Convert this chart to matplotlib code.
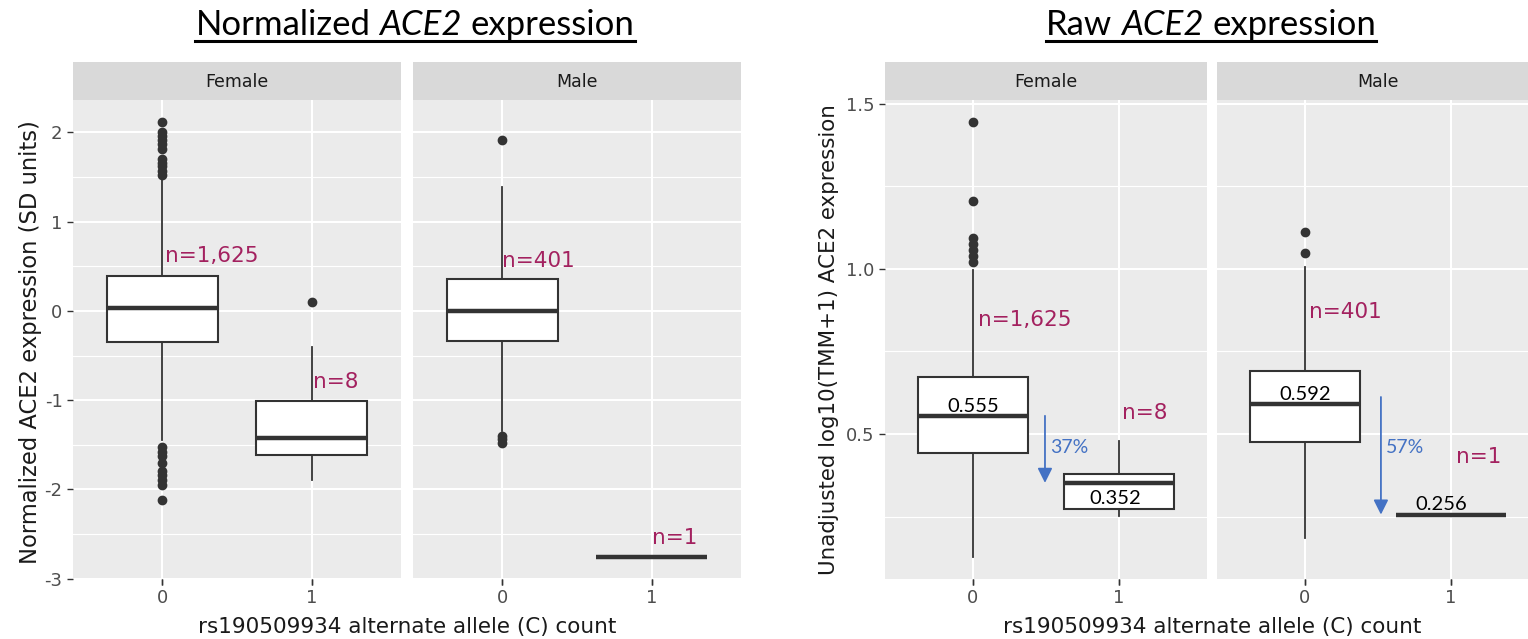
import matplotlib
matplotlib.use("Agg")
import matplotlib.pyplot as plt
from matplotlib.transforms import IdentityTransform
from matplotlib.lines import Line2D
from matplotlib.ticker import FormatStrFormatter

# ---------------- data ----------------
facets = ["Female", "Male"]
allele_counts = ["0", "1"]

# Normalized ACE2 expression (SD units)
norm_female_median = [0.03, -1.42]
norm_female_q1 = [-0.35, -1.61]
norm_female_q3 = [0.39, -1.01]
norm_female_whisker_low = [-1.45, -1.90]
norm_female_whisker_high = [1.49, -0.40]
norm_female_outliers = [[2.12, 2.00, 1.96, 1.92, 1.87, 1.82, 1.70, 1.66, 1.62, 1.57, 1.52,
                         -1.53, -1.58, -1.63, -1.70, -1.79, -1.84, -1.90, -1.95, -2.12],
                        [0.10]]
norm_male_median = [0.00, -2.76]
norm_male_q1 = [-0.34, -2.76]
norm_male_q3 = [0.36, -2.76]
norm_male_whisker_low = [-1.35, -2.76]
norm_male_whisker_high = [1.39, -2.76]
norm_male_outliers = [[1.92, -1.40, -1.44, -1.48], []]

# Raw (unadjusted log10(TMM+1)) ACE2 expression
raw_female_median = [0.555, 0.352]
raw_female_q1 = [0.442, 0.273]
raw_female_q3 = [0.672, 0.380]
raw_female_whisker_low = [0.127, 0.252]
raw_female_whisker_high = [0.997, 0.479]
raw_female_outliers = [[1.445, 1.205, 1.094, 1.076, 1.058, 1.040, 1.022], []]
raw_male_median = [0.592, 0.256]
raw_male_q1 = [0.477, 0.256]
raw_male_q3 = [0.690, 0.256]
raw_male_whisker_low = [0.185, 0.256]
raw_male_whisker_high = [1.006, 0.256]
raw_male_outliers = [[1.112, 1.048], []]

female_n_labels = ["n=1,625", "n=8"]
male_n_labels = ["n=401", "n=1"]

norm_yticks = [-3, -2, -1, 0, 1, 2]
raw_yticks = [0.5, 1.0, 1.5]

# ---------------- style / layout ----------------
W, H = 1528, 639
plt.rcParams['axes.unicode_minus'] = False
plt.rcParams['font.family'] = ['DejaVu Sans']

N_COLOR = '#A3215F'
BLUE = '#4472C4'
DARK = '#333333'
CAL = ['Lato', 'Open Sans', 'DejaVu Sans']

fig = plt.figure(figsize=(W / 100, H / 100), dpi=100)
fig.patch.set_facecolor('white')
renderer = fig.canvas.get_renderer()
IDT = IdentityTransform()

PANEL_TOP, PANEL_BOTTOM, STRIP_TOP = 100, 579, 62


def px_rect(x0, y0, x1, y1):
    return [x0 / W, 1 - y1 / H, (x1 - x0) / W, (y1 - y0) / H]


def expanded(groups):
    vals = []
    for g in groups:
        for v in g:
            if isinstance(v, list):
                vals.extend(v)
            else:
                vals.append(v)
    lo, hi = min(vals), max(vals)
    r = hi - lo
    return lo - 0.05 * r, hi + 0.05 * r


def make_panel(x0, x1, label, ylim, major, minor, show_y, fmt=None):
    ax = fig.add_axes(px_rect(x0, PANEL_TOP, x1, PANEL_BOTTOM))
    ax.set_facecolor('#EBEBEB')
    for s in ax.spines.values():
        s.set_visible(False)
    ax.set_xlim(-0.6, 1.6)
    ax.set_ylim(*ylim)
    ax.set_xticks([0, 1])
    ax.set_xticklabels(allele_counts)
    ax.set_yticks(major)
    ax.set_yticks(minor, minor=True)
    if fmt:
        ax.yaxis.set_major_formatter(FormatStrFormatter(fmt))
    ax.grid(True, which='major', color='white', lw=1.5)
    ax.grid(True, which='minor', axis='y', color='white', lw=0.8)
    ax.set_axisbelow(True)
    ax.tick_params(which='major', length=4.5, width=1.0, color=DARK,
                   labelcolor='#4D4D4D', labelsize=13, pad=3)
    ax.tick_params(which='minor', length=0)
    if not show_y:
        ax.tick_params(axis='y', which='major', length=0, labelleft=False)
    strip = fig.add_axes(px_rect(x0, STRIP_TOP, x1, PANEL_TOP))
    strip.set_facecolor('#D9D9D9')
    strip.set_xticks([])
    strip.set_yticks([])
    for s in strip.spines.values():
        s.set_visible(False)
    strip.text(0.5, 0.48, label, ha='center', va='center', fontsize=12.5, color='#1A1A1A',
               transform=strip.transAxes)
    return ax


def draw_boxes(ax, med, q1, q3, lo, hi, outl):
    stats = [dict(med=m, q1=a, q3=b, whislo=l, whishi=h, fliers=f)
             for m, a, b, l, h, f in zip(med, q1, q3, lo, hi, outl)]
    ax.bxp(stats, positions=[0, 1], widths=0.75, patch_artist=True, showcaps=False,
           boxprops=dict(facecolor='white', edgecolor=DARK, linewidth=1.5),
           medianprops=dict(color=DARK, linewidth=3.2, solid_capstyle='butt'),
           whiskerprops=dict(color=DARK, linewidth=1.3),
           flierprops=dict(marker='o', markerfacecolor=DARK, markeredgecolor=DARK,
                           markersize=6, linestyle='none'))


def title(cx, baseline, parts, size):
    texts = []
    for s, st in parts:
        texts.append(fig.text(0, 0, s, fontsize=size, family=CAL, style=st,
                              transform=IDT, ha='left', va='baseline', color='black'))
    t1 = fig.text(0, 0, "a a", fontsize=size, family=CAL, transform=IDT)
    t2 = fig.text(0, 0, "aa", fontsize=size, family=CAL, transform=IDT)
    space = t1.get_window_extent(renderer).width - t2.get_window_extent(renderer).width
    t1.remove()
    t2.remove()
    widths = [t.get_window_extent(renderer).width for t in texts]
    total = sum(widths) + space * (len(texts) - 1)
    x = cx - total / 2
    for t, w in zip(texts, widths):
        t.set_position((x, H - baseline))
        x += w + space
    fig.add_artist(Line2D([cx - total / 2, cx + total / 2], [H - baseline - 6] * 2,
                          transform=IDT, color='black', lw=2.2))


# ---------------- left chart: normalized ----------------
norm_ylim = expanded([norm_female_outliers, norm_male_outliers,
                      norm_female_whisker_low, norm_male_whisker_low,
                      norm_female_whisker_high, norm_male_whisker_high])
norm_minor = [v + 0.5 for v in norm_yticks[:-1]]
axL_f = make_panel(73, 401, facets[0], norm_ylim, norm_yticks, norm_minor, True)
axL_m = make_panel(413, 741, facets[1], norm_ylim, norm_yticks, norm_minor, False)
draw_boxes(axL_f, norm_female_median, norm_female_q1, norm_female_q3,
           norm_female_whisker_low, norm_female_whisker_high, norm_female_outliers)
draw_boxes(axL_m, norm_male_median, norm_male_q1, norm_male_q3,
           norm_male_whisker_low, norm_male_whisker_high, norm_male_outliers)

NS = 15.5
axL_f.text(0.02, 0.62, female_n_labels[0], color=N_COLOR, fontsize=NS, ha='left', va='center')
axL_f.text(1.01, -0.80, female_n_labels[1], color=N_COLOR, fontsize=NS, ha='left', va='center')
axL_m.text(0.00, 0.56, male_n_labels[0], color=N_COLOR, fontsize=NS, ha='left', va='center')
axL_m.text(1.00, -2.55, male_n_labels[1], color=N_COLOR, fontsize=NS, ha='left', va='center')

fig.text(31, H - 342, "Normalized ACE2 expression (SD units)", rotation=90, fontsize=16.3,
         ha='center', va='center', color='#1A1A1A', transform=IDT)
fig.text(407, H - 633, "rs190509934 alternate allele (C) count", fontsize=15.5,
         ha='center', va='baseline', color='#1A1A1A', transform=IDT)

# ---------------- right chart: raw ----------------
raw_ylim = expanded([raw_female_outliers, raw_male_outliers,
                     raw_female_whisker_low, raw_male_whisker_low,
                     raw_female_whisker_high, raw_male_whisker_high])
raw_minor = [0.25, 0.75, 1.25]
axR_f = make_panel(885, 1207, facets[0], raw_ylim, raw_yticks, raw_minor, True, '%.1f')
axR_m = make_panel(1217, 1539, facets[1], raw_ylim, raw_yticks, raw_minor, False)
draw_boxes(axR_f, raw_female_median, raw_female_q1, raw_female_q3,
           raw_female_whisker_low, raw_female_whisker_high, raw_female_outliers)
draw_boxes(axR_m, raw_male_median, raw_male_q1, raw_male_q3,
           raw_male_whisker_low, raw_male_whisker_high, raw_male_outliers)

axR_f.text(0.035, 0.845, female_n_labels[0], color=N_COLOR, fontsize=NS, ha='left', va='center')
axR_f.text(1.02, 0.565, female_n_labels[1], color=N_COLOR, fontsize=NS, ha='left', va='center')
axR_m.text(0.03, 0.87, male_n_labels[0], color=N_COLOR, fontsize=NS, ha='left', va='center')
axR_m.text(1.03, 0.43, male_n_labels[1], color=N_COLOR, fontsize=NS, ha='left', va='center')

# median value labels
MS = 14.5
axR_f.text(0.0, raw_female_median[0] + 0.028, f"{raw_female_median[0]:.3f}", fontsize=MS,
           family=CAL, ha='center', va='center', color='black')
axR_f.text(0.97, raw_female_median[1] - 0.046, f"{raw_female_median[1]:.3f}", fontsize=MS,
           family=CAL, ha='center', va='center', color='black')
axR_m.text(0.0, raw_male_median[0] + 0.027, f"{raw_male_median[0]:.3f}", fontsize=MS,
           family=CAL, ha='center', va='center', color='black')
axR_m.text(0.93, raw_male_median[1] + 0.030, f"{raw_male_median[1]:.3f}", fontsize=MS,
           family=CAL, ha='center', va='center', color='black')

# percentage drop arrows
for ax, med, xa in ((axR_f, raw_female_median, 0.493), (axR_m, raw_male_median, 0.52)):
    top = med[0] if ax is axR_f else med[0] + 0.02
    ax.annotate('', xy=(xa, med[1]), xytext=(xa, top),
                arrowprops=dict(arrowstyle='-|>', color=BLUE, lw=1.3, mutation_scale=22,
                                shrinkA=0, shrinkB=0))
    pct = round((1 - med[1] / med[0]) * 100)
    ax.text(xa + 0.035, 0.46, f"{pct}%", color=BLUE, fontsize=14, family=CAL,
            ha='left', va='center')

fig.text(829, H - 340, "Unadjusted log10(TMM+1) ACE2 expression", rotation=90, fontsize=15.4,
         ha='center', va='center', color='#1A1A1A', transform=IDT)
fig.text(1212, H - 633, "rs190509934 alternate allele (C) count", fontsize=15.5,
         ha='center', va='baseline', color='#1A1A1A', transform=IDT)

# ---------------- titles ----------------
title(415, 35, [("Normalized", 'normal'), ("ACE2", 'italic'), ("expression", 'normal')], 25)
title(1211, 35, [("Raw", 'normal'), ("ACE2", 'italic'), ("expression", 'normal')], 25)

fig.savefig("out.png", dpi=100, facecolor='white')
